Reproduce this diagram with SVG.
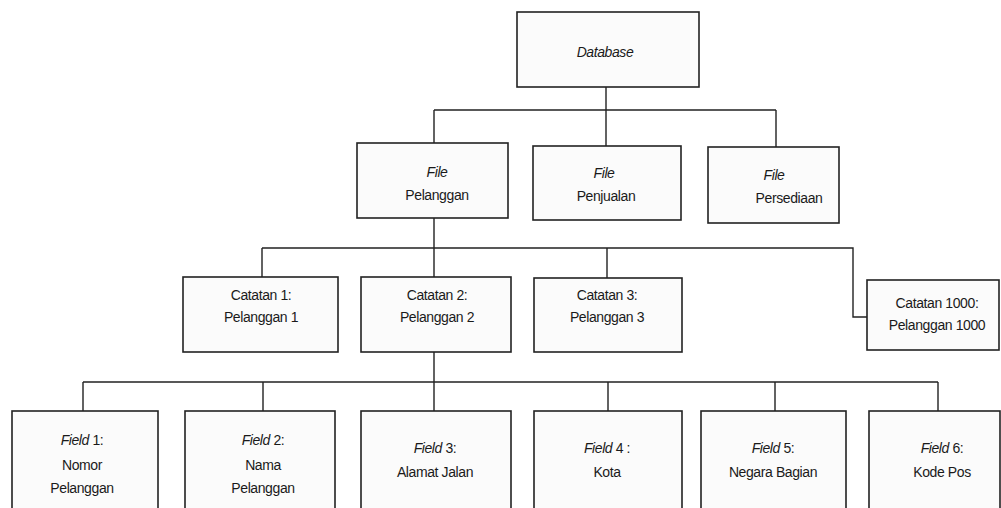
<svg xmlns="http://www.w3.org/2000/svg" width="1001" height="508" viewBox="0 0 1001 508">
<style>
.box{fill:#fbfbfb;stroke:#222;stroke-width:1.6}
.c{fill:none;stroke:#222;stroke-width:1.4}
text{font-family:"Liberation Sans Narrow","Liberation Sans",Arial,sans-serif;font-size:14px;letter-spacing:-0.4px;fill:#1a1a1a;text-anchor:middle}
.i{font-style:italic}
</style>
<rect width="1001" height="508" fill="#ffffff"/>
<g id="connectors">
<path class="c" d="M606 87V110M434 110H776M434 110V143M606 110V146M776 110V147"/>
<path class="c" d="M434 218V248M262 248H853V317H867M262 248V277M434 248V277M607 248V278"/>
<path class="c" d="M434 352V382M83 382H938M83 382V411M263 382V411M434 382V411M608 382V411M775 382V411M938 382V411"/>
</g>
<g id="database"><rect class="box" x="517" y="12" width="182" height="75"/><text class="i" x="605" y="57">Database</text></g>
<g id="file-pelanggan"><rect class="box" x="357" y="143" width="151" height="75"/><text class="i" x="437" y="177">File</text><text x="437" y="200">Pelanggan</text></g>
<g id="file-penjualan"><rect class="box" x="533" y="146" width="148" height="74"/><text class="i" x="604" y="178">File</text><text x="606" y="201">Penjualan</text></g>
<g id="file-persediaan"><rect class="box" x="708" y="147" width="131" height="76"/><text class="i" x="774" y="180">File</text><text x="789" y="203">Persediaan</text></g>
<g id="catatan-1"><rect class="box" x="183" y="277" width="155" height="75"/><text x="261" y="300">Catatan 1:</text><text x="261" y="322">Pelanggan 1</text></g>
<g id="catatan-2"><rect class="box" x="361" y="277" width="150" height="75"/><text x="437" y="300">Catatan 2:</text><text x="437" y="322">Pelanggan 2</text></g>
<g id="catatan-3"><rect class="box" x="534" y="278" width="148" height="74"/><text x="607" y="300">Catatan 3:</text><text x="607" y="322">Pelanggan 3</text></g>
<g id="catatan-1000"><rect class="box" x="867" y="280" width="132" height="70"/><text x="937" y="308">Catatan 1000:</text><text x="937" y="330">Pelanggan 1000</text></g>
<g id="field-1"><rect class="box" x="12" y="411" width="146" height="100"/><text x="82" y="445"><tspan class="i">Field</tspan> 1:</text><text x="82" y="470">Nomor</text><text x="82" y="493">Pelanggan</text></g>
<g id="field-2"><rect class="box" x="185" y="411" width="150" height="100"/><text x="263" y="445"><tspan class="i">Field</tspan> 2:</text><text x="263" y="470">Nama</text><text x="263" y="493">Pelanggan</text></g>
<g id="field-3"><rect class="box" x="361" y="411" width="150" height="100"/><text x="435" y="453"><tspan class="i">Field</tspan> 3:</text><text x="435" y="477">Alamat Jalan</text></g>
<g id="field-4"><rect class="box" x="534" y="411" width="148" height="100"/><text x="607" y="453"><tspan class="i">Field</tspan> 4 :</text><text x="607" y="477">Kota</text></g>
<g id="field-5"><rect class="box" x="701" y="411" width="145" height="100"/><text x="773" y="453"><tspan class="i">Field</tspan> 5:</text><text x="773" y="477">Negara Bagian</text></g>
<g id="field-6"><rect class="box" x="869" y="411" width="131" height="100"/><text x="942" y="453"><tspan class="i">Field</tspan> 6:</text><text x="942" y="477">Kode Pos</text></g>
</svg>
